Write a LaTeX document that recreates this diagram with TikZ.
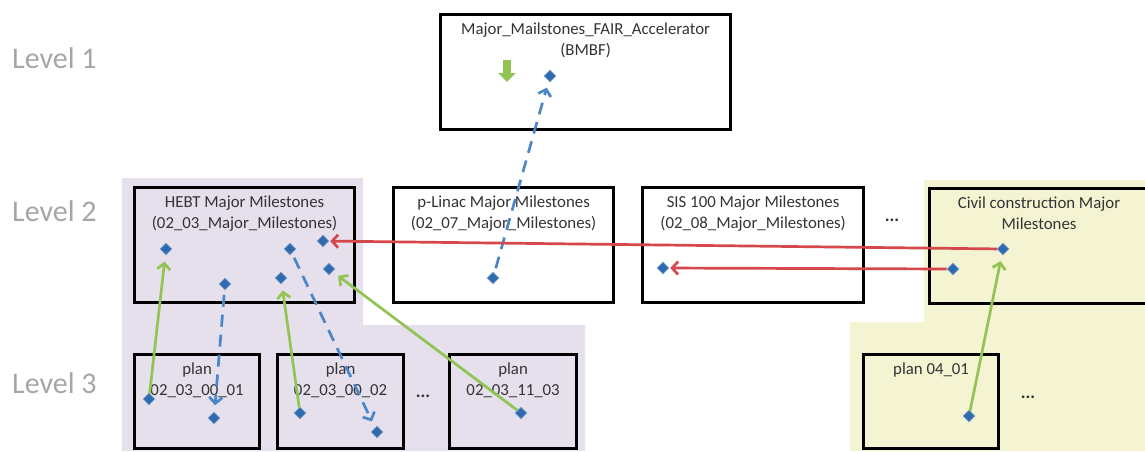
\documentclass[tikz,border=0pt]{standalone}
\usepackage{fontspec}
\setmainfont{Carlito}
\usetikzlibrary{shapes.geometric, arrows.meta, positioning}
\definecolor{lavender}{HTML}{E5E0EC}
\definecolor{paleyellow}{HTML}{F4F4D2}
\definecolor{msblue}{HTML}{2F6AAE}
\definecolor{linkblue}{HTML}{4A86C8}
\definecolor{linkgreen}{HTML}{92C353}
\definecolor{linkred}{HTML}{D5474B}
\definecolor{levelgray}{HTML}{A6A6A6}
\tikzstyle{level} = [text=levelgray, font=\fontsize{30}{32}\selectfont, anchor=west, inner sep=0pt]
\tikzstyle{box} = [rectangle, draw=black, line width=3.2pt, anchor=north west, inner sep=0pt]
\tikzstyle{title} = [align=center, font=\fontsize{16.8}{21}\selectfont, text=black!80, 
    anchor=north, inner sep=0pt]
\tikzstyle{dots} = [font=\bfseries\fontsize{18}{20}\selectfont, text=black!80, inner sep=0pt]
\tikzstyle{ms} = [diamond, fill=msblue, draw=msblue!60, line width=0.6pt, minimum size=12pt, inner sep=0pt]
\tikzstyle{down} = [draw, linkblue, line width=2.7pt, dash pattern=on 12pt off 8pt,
    -{Straight Barb[length=6pt, width=13pt]}, shorten <=5pt, shorten >=7pt]
\tikzstyle{up} = [draw, linkgreen, line width=2.7pt, 
    -{Straight Barb[length=6pt, width=13pt]}, shorten >=7pt]
\tikzstyle{sync} = [draw, linkred, line width=2.7pt, 
    -{Straight Barb[length=6pt, width=13pt]}, shorten >=1pt]
\tikzstyle{blockarrow} = [draw, linkgreen, line width=8pt, -{Triangle[length=9pt, width=17pt]}]

\begin{document}
\begin{tikzpicture}[x=1pt, y=-1pt]
        \useasboundingbox (0,0) rectangle (1145,451);
        \clip (0,0) rectangle (1145,451);
        % Background areas
        \fill [lavender] (122,178) -- (363,178) -- (363,325) -- (585,325) -- (585,451) -- (122,451) -- cycle;
        \fill [paleyellow] (924,180) -- (1150,180) -- (1150,451) -- (850,451) -- (850,322) -- (924,322) -- cycle;
        % Level labels
        \node [level] (lvl1) at (12,58) {Level 1};
        \node [level] (lvl2) at (12,211) {Level 2};
        \node [level] (lvl3) at (12,383) {Level 3};
        % Place boxes
        \node [box, minimum width=290pt, minimum height=115pt] (fair) at (439,13) {};
        \node [title, below=10pt of fair.north] (fairt) {Major\_Mailstones\_FAIR\_Accelerator\\(BMBF)};
        \node [box, minimum width=220pt, minimum height=115pt] (hebt) at (133,186) {};
        \node [title, below=10pt of hebt.north] (hebtt) {HEBT Major Milestones\\(02\_03\_Major\_Milestones)};
        \node [box, minimum width=220pt, minimum height=115pt] (linac) at (392,186) {};
        \node [title, below=10pt of linac.north] (linact) {p-Linac Major Milestones\\(02\_07\_Major\_Milestones)};
        \node [box, minimum width=221pt, minimum height=115pt] (sis) at (641,186) {};
        \node [title, below=10pt of sis.north] (sist) {SIS 100 Major Milestones\\(02\_08\_Major\_Milestones)};
        \node [box, minimum width=240pt, minimum height=115pt] (civil) at (928,187) {};
        \node [title] (civilt) at (1039,197) {Civil construction Major\\Milestones};
        \node [box, minimum width=125pt, minimum height=94pt] (plana) at (133,353) {};
        \node [title, below=10pt of plana.north] (planat) {plan\\02\_03\_00\_01};
        \node [box, minimum width=126pt, minimum height=94pt] (planb) at (276,353) {};
        \node [title, below=10pt of planb.north] (planbt) {plan\\02\_03\_00\_02};
        \node [box, minimum width=127pt, minimum height=94pt] (planc) at (448,353) {};
        \node [title, below=10pt of planc.north] (planct) {plan\\02\_03\_11\_03};
        \node [box, minimum width=135pt, minimum height=94pt] (pland) at (862,353) {};
        \node [title, below=10pt of pland.north] (plandt) {plan 04\_01};
        % Dots
        \node [dots] (dots2) at (892,220) {...};
        \node [dots] (dots3a) at (423,396) {...};
        \node [dots] (dots3b) at (1028,397) {...};
        % Milestones
        \coordinate (flagtop) at (507,60);
        \coordinate (flagtip) at (507,82);
        \node [ms] (f1) at (550,76) {};
        \node [ms] (h1) at (166,249) {};
        \node [ms] (h2) at (225,284) {};
        \node [ms] (h3) at (290,249) {};
        \node [ms] (h4) at (281,278) {};
        \node [ms] (h5) at (323,241) {};
        \node [ms] (h6) at (329,269) {};
        \node [ms] (l1) at (493,278) {};
        \node [ms] (s1) at (663,268) {};
        \node [ms] (c1) at (1003,249) {};
        \node [ms] (c2) at (953,269) {};
        \node [ms] (pa1) at (149,399) {};
        \node [ms] (pa2) at (214,418) {};
        \node [ms] (pb1) at (300,413) {};
        \node [ms] (pb2) at (377,432) {};
        \node [ms] (pc1) at (521,413) {};
        \node [ms] (pd1) at (969,416) {};
        % Draw edges
        \path [blockarrow] (flagtop) -- (flagtip);
        \path [down] (l1) -- (f1);
        \path [down] (h2) -- (pa2);
        \path [down] (h3) -- (pb2);
        \path [up] (pa1) -- (h1);
        \path [up] (pb1) -- (h4);
        \path [up] (pc1) -- (h6);
        \path [up] (pd1) -- (c1);
        \path [sync] (c1) -- (h5);
        \path [sync] (c2) -- (s1);
    \end{tikzpicture}
\end{document}
